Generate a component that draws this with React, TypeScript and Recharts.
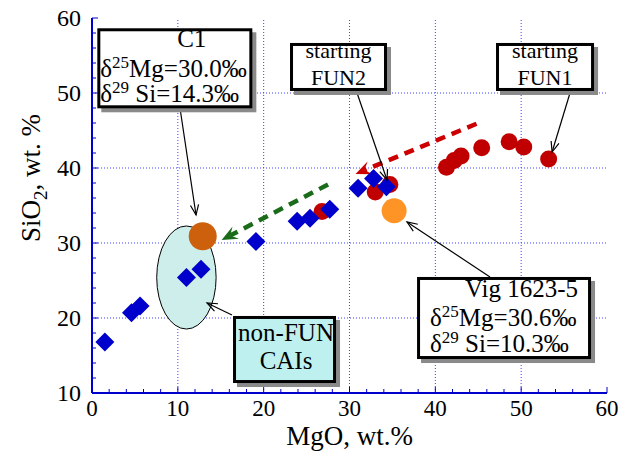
import React from 'react';
import { ScatterChart, Scatter, XAxis, YAxis, ReferenceLine, ReferenceArea } from 'recharts';

const BLUE = '#0000cc';
const GRID = '#4040ff';
const FONT = '"Liberation Serif", "Times New Roman", serif';

// MgO / SiO2 (wt.%)
const diamondMgO = [1.5, 4.6, 5.6, 11.0, 12.7, 19.1, 23.9, 25.4, 27.7, 31.0, 32.8, 34.3];
const diamondSiO2 = [16.8, 20.7, 21.6, 25.4, 26.5, 30.2, 32.9, 33.3, 34.5, 37.3, 38.6, 37.5];

const redMgO = [26.8, 33.0, 34.7, 41.3, 42.2, 43.0, 45.4, 48.6, 50.3, 53.2];
const redSiO2 = [34.2, 36.8, 37.8, 40.1, 41.0, 41.6, 42.7, 43.5, 42.8, 41.2];

const c1MgO = [12.9];
const c1SiO2 = [30.9];
const vigMgO = [35.2];
const vigSiO2 = [34.3];

const xTicks = Array.from({ length: 31 }, (_, i) => i * 2);
const yTicks = Array.from({ length: 26 }, (_, i) => 10 + i * 2);
const xGrid = [10, 20, 30, 40, 50];
const yGrid = [20, 30, 40, 50];

const toPoints = (xs: number[], ys: number[]) => xs.map((x, i) => ({ x, y: ys[i] }));

const isMajor = (v: number) => v % 10 === 0;
const tickLen = (v: number) => (isMajor(v) ? 6 : 4);

function BottomTick({ x, y, payload }: any) {
  const v = payload.value;
  return (
    <g>
      <line x1={x} x2={x} y1={y} y2={y - tickLen(v)} stroke={BLUE} />
      {isMajor(v) && (
        <text x={x} y={y + 23} textAnchor="middle" fontSize={23} fontFamily={FONT} fill="#000">{v}</text>
      )}
    </g>
  );
}

function LeftTick({ x, y, payload }: any) {
  const v = payload.value;
  return (
    <g>
      <line x1={x} x2={x + tickLen(v)} y1={y} y2={y} stroke={BLUE} />
      {isMajor(v) && (
        <text x={x - 11} y={y + 8} textAnchor="end" fontSize={24} fontFamily={FONT} fill="#000">{v}</text>
      )}
    </g>
  );
}

const TopTick = ({ x, y, payload }: any) => (
  <line x1={x} x2={x} y1={y} y2={y + tickLen(payload.value)} stroke={BLUE} />
);

const RightTick = ({ x, y, payload }: any) => (
  <line x1={x} x2={x - tickLen(payload.value)} y1={y} y2={y} stroke={BLUE} />
);

const Diamond = ({ cx, cy }: any) => (
  <polygon points={`${cx},${cy - 9.5} ${cx + 9.5},${cy} ${cx},${cy + 9.5} ${cx - 9.5},${cy}`} fill={BLUE} />
);

const dot = (r: number, fill: string) => ({ cx, cy }: any) => <circle cx={cx} cy={cy} r={r} fill={fill} />;

// dashed trend arrow with a barbed head
const dashedArrow = (color: string) => (p: any) => {
  const { x1, y1, x2, y2 } = p;
  const a = Math.atan2(y2 - y1, x2 - x1);
  const L = 16, wdt = 7;
  const bx = x2 - L * Math.cos(a), by = y2 - L * Math.sin(a);
  const nx = x2 - L * 0.6 * Math.cos(a), ny = y2 - L * 0.6 * Math.sin(a);
  const px = -Math.sin(a) * wdt, py = Math.cos(a) * wdt;
  return (
    <g>
      <line x1={x1} y1={y1} x2={nx} y2={ny} stroke={color} strokeWidth={4.5} strokeDasharray="10 7" />
      <polygon
        points={`${x2},${y2} ${bx + px},${by + py} ${nx},${ny} ${bx - px},${by - py}`}
        fill={color}
      />
    </g>
  );
};

// thin black pointer with open head
const pointer = (p: any) => {
  const { x1, y1, x2, y2 } = p;
  const a = Math.atan2(y2 - y1, x2 - x1);
  const L = 11, s = 0.38;
  return (
    <g stroke="#000" strokeWidth={1.2} fill="none">
      <line x1={x1} y1={y1} x2={x2} y2={y2} />
      <polyline
        points={`${x2 - L * Math.cos(a - s)},${y2 - L * Math.sin(a - s)} ${x2},${y2} ${x2 - L * Math.cos(a + s)},${y2 - L * Math.sin(a + s)}`}
      />
    </g>
  );
};

type Line = { text: React.ReactNode; dx: number; dy: number; anchor?: 'start' | 'middle' | 'end' };

const callout = (fill: string, lines: Line[], size = 25) => (p: any) => {
  const { x, y, width, height } = p;
  return (
    <g>
      <rect x={x + 4} y={y + 4} width={width} height={height} fill="#8a8a8a" />
      <rect x={x + 1.5} y={y + 1.5} width={width - 3} height={height - 3} fill={fill} stroke="#000" strokeWidth={3} />
      {lines.map((l, i) => (
        <text
          key={i}
          x={x + l.dx}
          y={y + l.dy}
          textAnchor={l.anchor ?? 'start'}
          fontSize={size}
          fontFamily={FONT}
          fill="#000"
          style={{ whiteSpace: 'pre' }}
        >
          {l.text}
        </text>
      ))}
    </g>
  );
};

const delta = (iso: string, rest: string) => (
  <>
    δ<tspan dy={-9} fontSize={17}>{iso}</tspan>
    <tspan dy={9}>{rest}</tspan>
  </>
);

const ellipseShape = (p: any) => (
  <ellipse
    cx={p.x + p.width / 2}
    cy={p.y + p.height / 2}
    rx={p.width / 2}
    ry={p.height / 2}
    fill="#cdeeea"
    stroke="#000"
    strokeWidth={1}
  />
);

const YTitle = () => (
  <text x={40} y={178} transform="rotate(-90 40 178)" textAnchor="middle" fontSize={27} fontFamily={FONT} fill="#000">
    SiO<tspan dy={7} fontSize={19}>2</tspan>
    <tspan dy={-7}>, wt. %</tspan>
  </text>
);

export default function App() {
  return (
    <div style={{ position: 'absolute', left: 0, top: 0, background: '#fff' }}>
      <ScatterChart width={622} height={451} margin={{ top: 18, right: 15, bottom: 0, left: 0 }}>
        <XAxis
          type="number"
          dataKey="x"
          domain={[0, 60]}
          ticks={xTicks}
          interval={0}
          height={58}
          axisLine={{ stroke: BLUE, strokeWidth: 2 }}
          tickLine={false}
          tickSize={0}
          tickMargin={0}
          tick={<BottomTick />}
          label={{ value: 'MgO, wt.%', position: 'insideBottom', offset: 6, fontSize: 27, fontFamily: FONT, fill: '#000' }}
        />
        <YAxis
          type="number"
          dataKey="y"
          domain={[10, 60]}
          ticks={yTicks}
          interval={0}
          width={92}
          axisLine={{ stroke: BLUE, strokeWidth: 2 }}
          tickLine={false}
          tickSize={0}
          tickMargin={0}
          tick={<LeftTick />}
          label={{ content: () => <YTitle /> }}
        />
        <XAxis
          xAxisId="top"
          orientation="top"
          type="number"
          domain={[0, 60]}
          ticks={xTicks}
          interval={0}
          height={0}
          axisLine={{ stroke: BLUE, strokeWidth: 2 }}
          tickLine={false}
          tickSize={0}
          tickMargin={0}
          tick={<TopTick />}
        />
        <YAxis
          yAxisId="right"
          orientation="right"
          type="number"
          domain={[10, 60]}
          ticks={yTicks}
          interval={0}
          width={0}
          axisLine={{ stroke: BLUE, strokeWidth: 2 }}
          tickLine={false}
          tickSize={0}
          tickMargin={0}
          tick={<RightTick />}
        />

        {xGrid.map((v) => (
          <ReferenceLine key={`gx${v}`} x={v} stroke={GRID} strokeWidth={1} strokeDasharray="1 2" zIndex={-50} />
        ))}
        {yGrid.map((v) => (
          <ReferenceLine key={`gy${v}`} y={v} stroke={GRID} strokeWidth={1} strokeDasharray="1 2" zIndex={-50} />
        ))}

        <ReferenceArea x1={7.54} x2={14.46} y1={18.53} y2={32.27} shape={ellipseShape} zIndex={50} />

        <ReferenceLine segment={[{ x: 44.8, y: 45.9 }, { x: 30.7, y: 39.2 }]} shape={dashedArrow('#cc0000')} zIndex={100} />
        <ReferenceLine segment={[{ x: 27.5, y: 37.8 }, { x: 15.1, y: 30.4 }]} shape={dashedArrow('#1a6b1a')} zIndex={100} />

        <Scatter data={toPoints(redMgO, redSiO2)} shape={dot(8.5, '#c00000')} isAnimationActive={false} />
        <Scatter data={toPoints(diamondMgO, diamondSiO2)} shape={Diamond} isAnimationActive={false} />
        <Scatter data={toPoints(c1MgO, c1SiO2)} shape={dot(14, '#cc600c')} isAnimationActive={false} />
        <Scatter data={toPoints(vigMgO, vigSiO2)} shape={dot(12.5, '#ff9426')} isAnimationActive={false} />

        <ReferenceLine segment={[{ x: 10.25, y: 48.0 }, { x: 12.12, y: 33.73 }]} shape={pointer} zIndex={700} />
        <ReferenceLine segment={[{ x: 30.88, y: 50.0 }, { x: 34.37, y: 38.4 }]} shape={pointer} zIndex={700} />
        <ReferenceLine segment={[{ x: 55.69, y: 50.0 }, { x: 53.6, y: 42.13 }]} shape={pointer} zIndex={700} />
        <ReferenceLine segment={[{ x: 16.31, y: 20.4 }, { x: 13.4, y: 22.0 }]} shape={pointer} zIndex={700} />
        <ReferenceLine segment={[{ x: 46.37, y: 25.47 }, { x: 36.7, y: 32.8 }]} shape={pointer} zIndex={700} />

        <ReferenceArea
          x1={0.62}
          x2={18.68}
          y1={47.96}
          y2={58.63}
          zIndex={800}
          shape={callout('#fff', [
            { text: 'C1', dx: 94.4, dy: 19, anchor: 'middle' },
            { text: delta('25', 'Mg=30.0‰'), dx: 3, dy: 49 },
            { text: delta('29', ' Si=14.3‰'), dx: 3, dy: 74 },
          ])}
        />
        <ReferenceArea
          x1={23.07}
          x2={34.37}
          y1={50.27}
          y2={56.67}
          zIndex={800}
          shape={callout('#fff', [
            { text: 'starting', dx: 48.5, dy: 15, anchor: 'middle' },
            { text: 'FUN2', dx: 48.5, dy: 42, anchor: 'middle' },
          ], 22)}
        />
        <ReferenceArea
          x1={47.07}
          x2={58.49}
          y1={50.27}
          y2={56.67}
          zIndex={800}
          shape={callout('#fff', [
            { text: 'starting', dx: 49, dy: 15, anchor: 'middle' },
            { text: 'FUN1', dx: 49, dy: 42, anchor: 'middle' },
          ], 22)}
        />
        <ReferenceArea
          x1={37.87}
          x2={58.14}
          y1={14.53}
          y2={25.47}
          zIndex={800}
          shape={callout('#fff', [
            { text: 'Vig 1623-5', dx: 161, dy: 20, anchor: 'end' },
            { text: delta('25', 'Mg=30.6‰'), dx: 13, dy: 49 },
            { text: delta('29', ' Si=10.3‰'), dx: 13, dy: 75 },
          ])}
        />
        <ReferenceArea
          x1={16.43}
          x2={28.43}
          y1={11.33}
          y2={20.27}
          zIndex={800}
          shape={callout('#bff0f0', [
            { text: 'non-FUN', dx: 53, dy: 25, anchor: 'middle' },
            { text: 'CAIs', dx: 53, dy: 53, anchor: 'middle' },
          ])}
        />
      </ScatterChart>
    </div>
  );
}
